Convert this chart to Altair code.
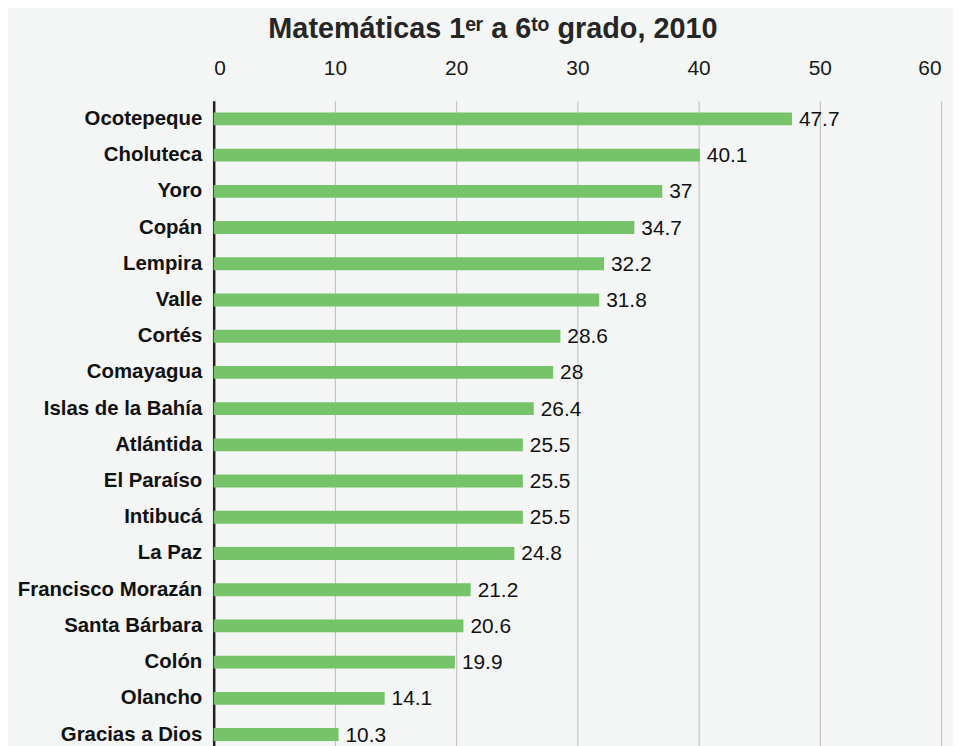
import altair as alt
import pandas as pd

departamentos = ["Ocotepeque", "Choluteca", "Yoro", "Copán", "Lempira", "Valle", "Cortés",
                 "Comayagua", "Islas de la Bahía", "Atlántida", "El Paraíso", "Intibucá",
                 "La Paz", "Francisco Morazán", "Santa Bárbara", "Colón", "Olancho",
                 "Gracias a Dios"]
valores = [47.7, 40.1, 37, 34.7, 32.2, 31.8, 28.6, 28, 26.4, 25.5, 25.5, 25.5, 24.8,
           21.2, 20.6, 19.9, 14.1, 10.3]

df = pd.DataFrame({"dep": departamentos, "val": valores})

x = alt.X("val:Q", scale=alt.Scale(domain=[0, 60]),
          axis=alt.Axis(orient="top", values=[0, 10, 20, 30, 40, 50, 60], title=None,
                        ticks=False, domain=False, labelPadding=22, labelFontSize=21,
                        labelColor="#1a1a1a", labelFont="Liberation Sans",
                        grid=True, gridColor="#c4c4c4", gridWidth=1.2))
y = alt.Y("dep:N", sort=departamentos, title=None,
          scale=alt.Scale(paddingInner=0.64, paddingOuter=0.32),
          axis=alt.Axis(ticks=False, domain=True, domainColor="#222222", domainWidth=2.5,
                        labelFontSize=20.5, labelFontWeight="bold", labelColor="#111111",
                        labelFont="Liberation Sans", labelPadding=12, labelLimit=300))

bars = alt.Chart(df).mark_bar(color="#76c36a", size=13).encode(x=x, y=y)
text = alt.Chart(df).mark_text(align="left", dx=7, dy=1, fontSize=21, color="#111111",
                               font="Liberation Sans").encode(
    x="val:Q", y=alt.Y("dep:N", sort=departamentos), text=alt.Text("val:Q"))

chart = (bars + text).properties(
    width=732, height=656,
    title=alt.TitleParams("Matemáticas 1ᵉʳ a 6ᵗᵒ grado, 2010", fontSize=29,
                          font="Liberation Sans", fontWeight="bold", color="#262626",
                          anchor="middle", dx=-85, offset=14),
    background="#f4f5f5",
    padding={"left": 9, "top": 5, "right": 12, "bottom": 5},
).configure_view(stroke=None)

chart.save("out.html", embed_options={"renderer": "svg", "actions": False})
